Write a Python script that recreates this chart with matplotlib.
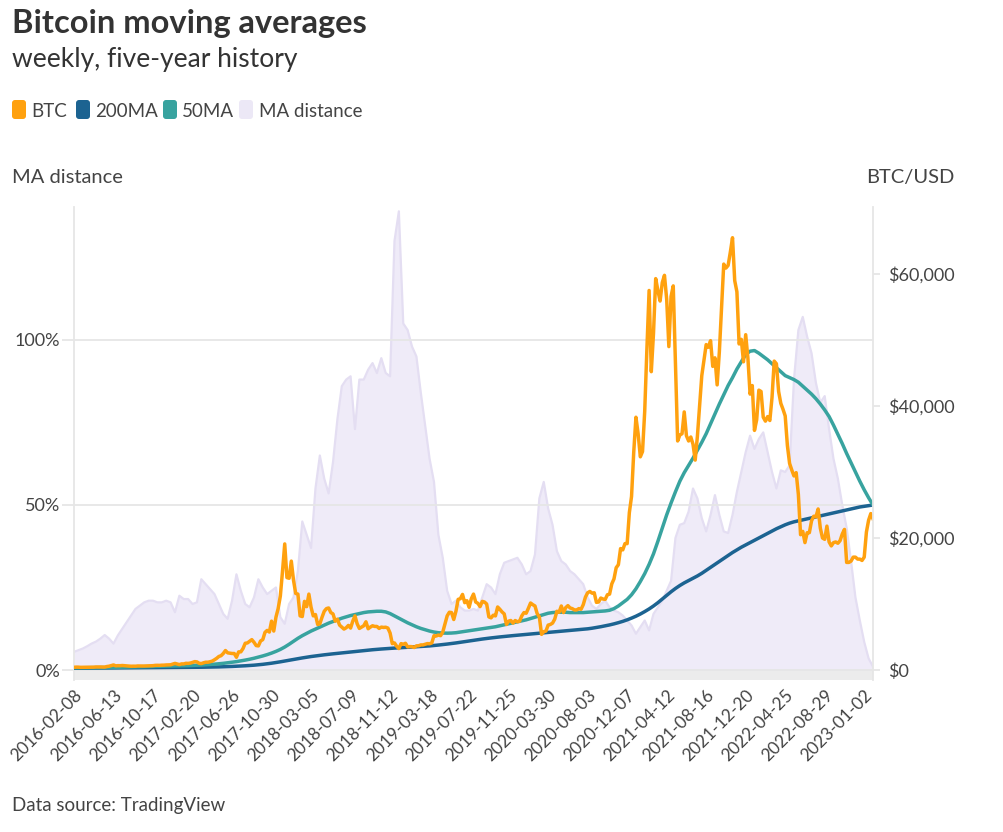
import numpy as np
import pandas as pd
import matplotlib
matplotlib.use("Agg")
import matplotlib.pyplot as plt
from matplotlib.patches import FancyBboxPatch

plt.rcParams['font.family'] = ['Lato', 'DejaVu Sans']

# BTC weekly close, weeks starting 2016-02-08
btc_weeks = pd.date_range('2016-02-08', periods=365, freq='7D')
btc_2016 = [407, 438, 433, 403, 412, 410, 417, 420, 420, 428, 458, 451, 458, 457, 440, 527,
            575, 670, 763, 630, 660, 650, 680, 660, 624, 590, 570, 581, 573, 610, 606, 610,
            602, 614, 617, 641, 655, 700, 710, 703, 730, 735, 765, 770, 790, 890, 1000]
btc_2017 = [910, 820, 925, 920, 1015, 1000, 1050, 1150, 1270, 1230, 1020, 970, 1090, 1180,
            1180, 1250, 1350, 1550, 1770, 2050, 2170, 2500, 2950, 2600, 2550, 2500, 2500,
            1930, 2750, 2750, 3250, 4050, 4100, 4350, 4600, 4200, 3700, 3650, 4400, 4600,
            5700, 6000, 5750, 7400, 5900, 8000, 9300, 11200, 15000, 19100, 14000, 13900]
btc_2018 = [16500, 13600, 11600, 11500, 8200, 8100, 10400, 9600, 11500, 9500, 8200, 8400,
            6900, 7000, 8000, 8900, 9300, 9400, 8700, 8500, 7400, 7700, 6800, 6500, 6200,
            6400, 6750, 6350, 7400, 8200, 7000, 6300, 6500, 6700, 7300, 6250, 6500, 6700,
            6600, 6600, 6300, 6500, 6450, 6480, 6350, 5600, 4000, 4100, 3600, 3250, 4000, 3900]
btc_2019 = [4050, 3500, 3550, 3530, 3410, 3660, 3670, 3800, 3800, 3900, 4000, 3980, 4100,
            5200, 5150, 5300, 5200, 5750, 6950, 8200, 8750, 8700, 7650, 8900, 10700, 10800,
            11450, 10200, 10500, 9500, 10800, 11500, 10300, 10100, 9600, 10400, 10300, 10000,
            8050, 7900, 8300, 8200, 9550, 9200, 8800, 8500, 6900, 7400, 7500, 7100, 7500, 7300]
btc_2020 = [7400, 8200, 8700, 8600, 9350, 10150, 9900, 9700, 8550, 8050, 5400, 5800, 5900,
            6800, 6900, 7100, 7700, 8900, 8750, 9700, 8700, 9450, 9750, 9400, 9300, 9100,
            9100, 9300, 9200, 9900, 11050, 11700, 11900, 11650, 11700, 10250, 10300, 10900,
            10750, 10700, 11400, 11500, 13050, 13800, 15500, 15950, 18400, 18200, 19150,
            19150, 23850, 26300, 33000]
btc_2021 = [38300, 35800, 32300, 33100, 39200, 48700, 57500, 45200, 51000, 59300, 57500,
            55900, 58700, 59800, 56200, 49000, 56600, 58200, 46500, 34700, 35600, 35800,
            39100, 35500, 34700, 35300, 34200, 31800, 35400, 39900, 44600, 47000, 49300,
            48900, 49900, 46000, 47300, 43200, 48200, 54900, 61500, 60900, 61300, 63300,
            65500, 59000, 57300, 49400, 50100, 46700, 50800, 47300]
btc_2022 = [41800, 43100, 36300, 37900, 42400, 42200, 38300, 37700, 38400, 37800, 41300,
            46800, 46400, 42200, 40400, 39500, 38500, 34000, 31300, 30300, 29400, 29900,
            26600, 20500, 21000, 19300, 20800, 20800, 22600, 23300, 23200, 24400, 21500,
            20000, 19800, 21800, 19400, 18800, 19300, 19400, 19200, 19600, 20600, 21300,
            16300, 16300, 16500, 17100, 17100, 16800, 16800, 16600]
btc_2023 = [17100, 20900, 22700, 23700, 22900]
btc = btc_2016 + btc_2017 + btc_2018 + btc_2019 + btc_2020 + btc_2021 + btc_2022 + btc_2023

# moving averages and MA distance, read every second week
ma_weeks = pd.date_range('2016-02-08', periods=183, freq='14D')
ma200 = [260, 265, 270, 275, 280, 285, 290, 295, 300, 305,
         310, 315, 320, 325, 330, 335, 340, 345, 350, 355,
         360, 365, 370, 375, 380, 385, 390, 400, 410, 420,
         430, 440, 455, 470, 490, 510, 540, 570, 600, 640,
         680, 730, 790, 860, 940, 1030, 1130, 1240, 1360, 1480,
         1600, 1720, 1830, 1940, 2040, 2130, 2220, 2300, 2380, 2450,
         2520, 2590, 2660, 2730, 2800, 2870, 2940, 3010, 3070, 3130,
         3180, 3230, 3280, 3320, 3360, 3400, 3440, 3480, 3520, 3560,
         3600, 3650, 3710, 3780, 3850, 3930, 4010, 4100, 4200, 4300,
         4400, 4500, 4600, 4690, 4780, 4860, 4940, 5010, 5080, 5150,
         5210, 5270, 5330, 5390, 5450, 5510, 5570, 5630, 5690, 5750,
         5810, 5870, 5930, 5990, 6050, 6110, 6170, 6240, 6330, 6440,
         6560, 6690, 6830, 6990, 7170, 7370, 7600, 7860, 8150, 8480,
         8850, 9250, 9700, 10200, 10750, 11300, 11850, 12350, 12800, 13200,
         13550, 13900, 14250, 14650, 15100, 15550, 16000, 16450, 16900, 17350,
         17800, 18200, 18600, 18950, 19300, 19650, 20000, 20350, 20700, 21050,
         21400, 21700, 22000, 22250, 22450, 22600, 22750, 22900, 23050, 23200,
         23350, 23500, 23650, 23800, 23950, 24100, 24250, 24400, 24550, 24700,
         24800, 24900, 25000]
ma50 = [330, 335, 340, 345, 350, 355, 360, 370, 380, 395,
        410, 425, 440, 455, 470, 485, 500, 510, 520, 530,
        545, 560, 575, 595, 615, 640, 665, 690, 720, 750,
        790, 830, 880, 940, 1010, 1090, 1180, 1270, 1380, 1500,
        1630, 1780, 1950, 2130, 2330, 2560, 2820, 3120, 3480, 3900,
        4350, 4800, 5200, 5550, 5900, 6200, 6500, 6800, 7100, 7350,
        7600, 7850, 8050, 8250, 8400, 8550, 8700, 8800, 8850, 8900,
        8900, 8800, 8550, 8200, 7850, 7500, 7150, 6850, 6550, 6300,
        6100, 5900, 5750, 5650, 5600, 5580, 5600, 5650, 5750, 5850,
        5950, 6050, 6150, 6250, 6350, 6450, 6550, 6700, 6850, 7000,
        7150, 7300, 7450, 7600, 7800, 8000, 8200, 8400, 8600, 8700,
        8750, 8750, 8750, 8700, 8700, 8700, 8700, 8750, 8800, 8850,
        8900, 8950, 9050, 9300, 9700, 10200, 10700, 11400, 12300, 13400,
        14600, 16000, 17600, 19500, 21500, 23500, 25300, 27000, 28600, 29900,
        31000, 32100, 33300, 34500, 35800, 37300, 38800, 40300, 41700, 43100,
        44300, 45600, 46700, 47800, 48300, 48400, 48000, 47500, 47000, 46400,
        45800, 45200, 44600, 44300, 44000, 43600, 43000, 42400, 41800, 41100,
        40300, 39400, 38400, 37100, 35700, 34300, 32800, 31400, 30000, 28600,
        27300, 26100, 25000]
ma_distance = [5.5, 6, 6.5, 7.2, 8, 8.6, 9.5, 10.6, 9.5, 8,
               10.5, 12.5, 14.5, 16.5, 18.5, 19.5, 20.5, 21, 21, 20.5,
               20.5, 21, 20.5, 17.5, 22.5, 21.5, 21.5, 20, 20.5, 27.5,
               26, 24.5, 23, 20, 17, 15.5, 21, 29, 24, 20,
               19, 22, 27.5, 25, 23, 24, 25, 16, 14, 20,
               22, 30, 45, 41, 37, 55, 65, 58, 53.5, 63,
               76, 86, 88, 89, 73, 88, 88, 91, 93, 90,
               94.5, 90, 89, 130, 139, 105, 103, 98, 95, 84,
               74, 64, 57, 41, 34, 24, 20, 21, 19, 18,
               18, 18.5, 18, 22, 26, 25, 23, 29, 32.5, 33,
               33.5, 34, 32, 29, 30, 35, 52, 57, 49, 44,
               36, 33, 32, 30, 29, 27.5, 26, 22, 19.5, 18.5,
               20, 21, 19, 18, 17.5, 16.5, 15, 13.5, 11, 13,
               15, 12, 17, 19, 21, 24, 27, 40, 44, 44.5,
               48, 55, 52, 46, 42, 47, 53, 47, 42, 41.5,
               47, 54, 60, 66, 71, 67, 70, 72, 66, 60,
               55, 60.5, 60, 62, 88, 103, 107, 101, 96, 87,
               81, 83, 73, 64, 58, 50, 43, 33, 22, 15,
               8.5, 3.5, 1]

tick_dates = pd.date_range('2016-02-08', periods=21, freq='126D')
tick_labels = [d.strftime('%Y-%m-%d') for d in tick_dates]
left_ticks = [0, 50, 100]
left_labels = ['0%', '50%', '100%']
right_ticks = [0, 20000, 40000, 60000]
right_labels = ['$0', '$20,000', '$40,000', '$60,000']

legend_labels = ['BTC', '200MA', '50MA', 'MA distance']
legend_colors = ['#ffa10f', '#1c6391', '#38a39f', '#ece8f6']

c_btc, c_200, c_50 = legend_colors[0], legend_colors[1], legend_colors[2]
c_fill, c_edge = '#efebf8', '#e4def2'
c_grid = '#e6e6e6'
c_text = '#444444'

W, H = 1004, 832
def fx(px):
    return px / W
def fy(py):
    return 1 - py / H

fig = plt.figure(figsize=(W / 100, H / 100), dpi=100)
ax = fig.add_axes([fx(74), fy(680), (873 - 74) / W, (680 - 207) / H])

ylo, yhi = -3.03, 140.3
ax.set_ylim(ylo, yhi)
ax.set_xlim(btc_weeks[0], btc_weeks[-1])
ax.axhspan(ylo, 0, color='#ececec', lw=0, zorder=0)
ax.fill_between(ma_weeks, 0, ma_distance, color=c_fill, lw=0, zorder=1)
ax.plot(ma_weeks, ma_distance, color=c_edge, lw=1.6, zorder=1.2)

ax.set_yticks(left_ticks)
ax.set_yticklabels(left_labels)
ax.yaxis.grid(True, color=c_grid, lw=1.3)
ax.tick_params(axis='y', length=8.5, width=1.3, color=c_grid, pad=1.5,
               labelsize=13, labelcolor=c_text)
ax.set_xticks(tick_dates)
ax.set_xticklabels(tick_labels, rotation=45, ha='right', rotation_mode='anchor')
ax.tick_params(axis='x', length=0, pad=5, labelsize=12.5, labelcolor=c_text)
for s in ['top', 'bottom', 'right']:
    ax.spines[s].set_visible(False)
ax.spines['left'].set_color(c_grid)
ax.spines['left'].set_linewidth(1.3)

ax2 = ax.twinx()
ax2.set_ylim(ylo * 500, yhi * 500)
ax2.plot(ma_weeks, ma200, color=c_200, lw=2.5, solid_capstyle='round')
ax2.plot(ma_weeks, ma50, color=c_50, lw=2.5, solid_capstyle='round')
ax2.plot(btc_weeks, btc, color=c_btc, lw=2.5, solid_joinstyle='round')
ax2.set_yticks(right_ticks)
ax2.set_yticklabels(right_labels)
ax2.tick_params(axis='y', length=5, width=1.3, color=c_grid, pad=6,
                labelsize=13, labelcolor=c_text)
for s in ['top', 'bottom', 'left']:
    ax2.spines[s].set_visible(False)
ax2.spines['right'].set_color(c_grid)
ax2.spines['right'].set_linewidth(1.3)

fig.text(fx(12), fy(33), 'Bitcoin moving averages', fontsize=23.5, fontweight='bold',
         color='#333333', va='baseline')
fig.text(fx(12), fy(67), 'weekly, five-year history', fontsize=19, color='#333333',
         va='baseline')

sq_x = [12, 76, 163, 239]
txt_x = [31.5, 95, 181.5, 259]
for lab, col, sx, tx in zip(legend_labels, legend_colors, sq_x, txt_x):
    fig.patches.append(FancyBboxPatch((fx(sx), fy(119)), 14 / W, 19 / H,
                                      boxstyle='round,pad=0,rounding_size=0.003',
                                      mutation_aspect=W / H, transform=fig.transFigure,
                                      facecolor=col, edgecolor='none', figure=fig))
    fig.text(fx(tx), fy(117), lab, fontsize=13.5, color=c_text, va='baseline')

fig.text(fx(12), fy(183), 'MA distance', fontsize=14.5, color=c_text, va='baseline')
fig.text(fx(955), fy(183), 'BTC/USD', fontsize=14.5, color=c_text, va='baseline', ha='right')
fig.text(fx(12), fy(811), 'Data source: TradingView', fontsize=13.5, color=c_text,
         va='baseline')

fig.savefig('out.png', dpi=100)
